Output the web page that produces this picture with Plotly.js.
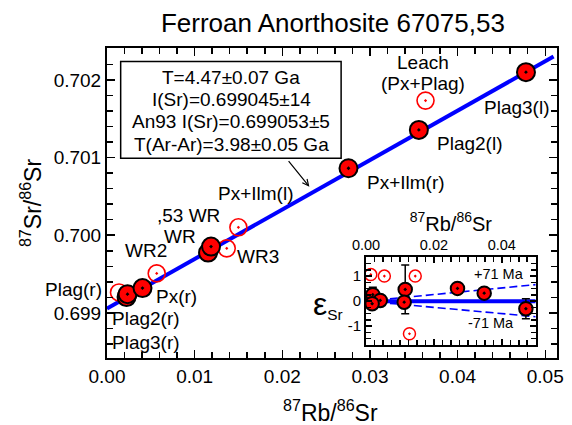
<!DOCTYPE html>
<html><head><meta charset="utf-8">
<script src="https://cdn.plot.ly/plotly-3.0.1.min.js"></script>
<style>html,body{margin:0;padding:0;background:#fff}#chart{width:572px;height:425px}</style>
</head><body><div id="chart"></div>
<script>
// ---- Main isochron data: 87Rb/86Sr vs 87Sr/86Sr ----
const openRb = [0.00137, 0.00567, 0.01366, 0.01499, 0.03634];
const openSr = [0.699264, 0.699509, 0.699831, 0.700102, 0.701733];
const filledRb = [0.00223, 0.00234, 0.00405, 0.01153, 0.01187, 0.02755, 0.03558, 0.04780];
const filledSr = [0.699204, 0.699242, 0.699320, 0.699777, 0.699854, 0.700862, 0.701356, 0.702099];
const isochronRb = [0, 0.05095];
const isochronSr = [0.699058, 0.702300];

// ---- Inset: epsilon Sr deviations ----
const insetOpenRb = [0.0014, 0.0054, 0.0145, 0.0128];
const insetOpenEps = [1.06, 1.00, 1.00, -1.30];
const insetFilledRb = [0.0020, 0.0042, 0.0018, 0.01155, 0.01125, 0.02695, 0.03482, 0.0471];
const insetFilledEps = [0.26, 0.03, -0.10, 0.47, -0.04, 0.51, 0.32, -0.30];
const insetFilledErr = [0.30, 0.20, 0.20, 0.97, 0.20, 0.20, 0.20, 0.40];
const refLineRb = [0, 0.05];
const refLineEps = [0, 0];
const plus71Eps = [0, 0.66];
const minus71Eps = [0, -0.62];
const insetXTickVals = [0, 0.02, 0.04];
const insetXTickText = ['0.00', '0.02', '0.04'];
const insetYTickVals = [-1, 0, 1];
const insetYTickText = ['-1', '0', '1'];

const FONT = 'Liberation Sans, Arial, Helvetica, sans-serif';
const RED = '#ff0000';
const BLUE = '#0000ff';

const traces = [
  {x: isochronRb, y: isochronSr, mode: 'lines', line: {color: BLUE, width: 4}, xaxis: 'x', yaxis: 'y', hoverinfo: 'skip'},
  {x: openRb, y: openSr, mode: 'markers', xaxis: 'x', yaxis: 'y',
   marker: {symbol: 'circle-open-dot', size: 17, color: RED, line: {color: RED, width: 1.6}}},
  {x: filledRb, y: filledSr, mode: 'markers', xaxis: 'x', yaxis: 'y',
   marker: {symbol: 'circle-dot', size: 18, color: RED, line: {color: 'black', width: 2}}},
  // inset
  {x: refLineRb, y: refLineEps, mode: 'lines', line: {color: BLUE, width: 4}, xaxis: 'x2', yaxis: 'y2'},
  {x: refLineRb, y: plus71Eps, mode: 'lines', line: {color: BLUE, width: 1.6, dash: '8px,4px'}, xaxis: 'x2', yaxis: 'y2'},
  {x: refLineRb, y: minus71Eps, mode: 'lines', line: {color: BLUE, width: 1.6, dash: '8px,4px'}, xaxis: 'x2', yaxis: 'y2'},
  {x: insetOpenRb, y: insetOpenEps, mode: 'markers', xaxis: 'x2', yaxis: 'y2',
   marker: {symbol: 'circle-open-dot', size: 12, color: RED, line: {color: RED, width: 1.5}}},
  {x: insetFilledRb, y: insetFilledEps, mode: 'markers', xaxis: 'x2', yaxis: 'y2',
   error_y: {type: 'data', array: insetFilledErr, visible: true, color: 'black', thickness: 1.5, width: 4},
   marker: {symbol: 'circle-dot', size: 13.5, color: RED, line: {color: 'black', width: 2}}}
];

function lab(text, x, y, size) {
  return {text: text, x: x, y: y, xref: 'x', yref: 'y', showarrow: false,
          xanchor: 'center', yanchor: 'middle', font: {size: size || 19}};
}

const annotations = [
  lab('T=4.47±0.07 Ga', 0.01420, 0.702026),
  lab('I(Sr)=0.699045±14', 0.01420, 0.701748),
  lab('An93 I(Sr)=0.699053±5', 0.01420, 0.701459),
  lab('T(Ar-Ar)=3.98±0.05 Ga', 0.01420, 0.701172),
  lab('Leach', 0.03604, 0.702223),
  lab('(Px+Plag)', 0.03604, 0.701957),
  lab('Plag3(l)', 0.04669, 0.701648),
  lab('Plag2(l)', 0.04136, 0.701175),
  lab('Px+Ilm(r)', 0.03413, 0.700682),
  lab('Px+Ilm(l)', 0.01689, 0.700531),
  lab(',53 WR', 0.00935, 0.700260),
  lab('WR', 0.00833, 0.699985),
  lab('WR3', 0.01727, 0.699723),
  lab('WR2', 0.00443, 0.699807),
  lab('Px(r)', 0.00796, 0.699207),
  {text: 'Plag(r)', x: -0.0755, y: 0.2194, xref: 'paper', yref: 'paper', showarrow: false,
   xanchor: 'center', yanchor: 'middle', font: {size: 19}},
  lab('Plag2(r)', 0.00445, 0.698929),
  lab('Plag3(r)', 0.00445, 0.698615),
  {x: 0.02309, y: 0.700625, xref: 'x', yref: 'y', text: '', showarrow: true,
   ax: -22, ay: -27, arrowhead: 5, arrowsize: 1, arrowwidth: 1.2, arrowcolor: 'black'},
  {text: '+71 Ma', x: 0.03915, y: 1.07, xref: 'x2', yref: 'y2', showarrow: false, font: {size: 14.5}},
  {text: '-71 Ma', x: 0.03682, y: -0.87, xref: 'x2', yref: 'y2', showarrow: false, font: {size: 14.5}},
  {text: 'ε<span style="font-size:22px"><sub>Sr</sub></span>', x: 0.4533, y: 0.174,
   xref: 'paper', yref: 'paper', xanchor: 'left', yanchor: 'middle', showarrow: false, font: {size: 32}},
  // main x-axis title, sitting at the bottom edge as in the original
  {text: '<sup>87</sup>Rb/<sup>86</sup>Sr', x: 0.4956, y: -0.1694, xref: 'paper', yref: 'paper',
   xanchor: 'center', yanchor: 'middle', showarrow: false, font: {size: 23}}
];

const layout = {
  width: 572, height: 425,
  margin: {l: 107, r: 15, t: 48, b: 67},
  paper_bgcolor: 'white', plot_bgcolor: 'white',
  showlegend: false,
  font: {family: FONT, color: 'black', size: 19},
  title: {text: 'Ferroan Anorthosite 67075,53', font: {size: 26},
          x: 0.582, xanchor: 'center', y: 0.946, yanchor: 'middle'},
  xaxis: {
    domain: [0, 1], range: [0, 0.05134], dtick: 0.01, tick0: 0, tickformat: '.2f',
    ticks: 'inside', ticklen: 8, tickwidth: 1.5, tickcolor: 'black',
    minor: {dtick: 0.002, tick0: 0, ticks: 'inside', ticklen: 6, tickwidth: 1.5, tickcolor: 'black', showgrid: false},
    showline: true, linewidth: 2, linecolor: 'black', mirror: 'ticks',
    showgrid: false, zeroline: false, tickfont: {size: 19}
  },
  yaxis: {
    domain: [0, 1], range: [0.69842, 0.70241], dtick: 0.001, tick0: 0.699, tickformat: '.3f',
    ticks: 'inside', ticklen: 8, tickwidth: 1.5, tickcolor: 'black',
    minor: {dtick: 0.0002, tick0: 0.699, ticks: 'inside', ticklen: 6, tickwidth: 1.5, tickcolor: 'black', showgrid: false},
    showline: true, linewidth: 2, linecolor: 'black', mirror: 'ticks',
    showgrid: false, zeroline: false, tickfont: {size: 19},
    title: {text: '<sup>87</sup>Sr/<sup>86</sup>Sr', font: {size: 23}, standoff: 6}
  },
  xaxis2: {
    domain: [0.5756, 0.9527], anchor: 'y2', side: 'top', range: [0, 0.05],
    tickmode: 'array', tickvals: insetXTickVals, ticktext: insetXTickText,
    ticks: 'inside', ticklen: 6, tickwidth: 1.5, tickcolor: 'black',
    minor: {dtick: 0.0025, tick0: 0, ticks: 'inside', ticklen: 5, tickwidth: 1.5, tickcolor: 'black', showgrid: false},
    showline: true, linewidth: 2, linecolor: 'black', mirror: 'ticks',
    showgrid: false, zeroline: false, tickfont: {size: 14.5},
    title: {text: '<sup>87</sup>Rb/<sup>86</sup>Sr', font: {size: 20}, standoff: 0}
  },
  yaxis2: {
    domain: [0.0419, 0.3248], anchor: 'x2', range: [-1.75, 1.75],
    tickmode: 'array', tickvals: insetYTickVals, ticktext: insetYTickText,
    ticks: 'inside', ticklen: 6, tickwidth: 1.5, tickcolor: 'black',
    minor: {dtick: 0.25, tick0: 0, ticks: 'inside', ticklen: 5, tickwidth: 1.5, tickcolor: 'black', showgrid: false},
    showline: true, linewidth: 2, linecolor: 'black', mirror: 'ticks',
    showgrid: false, zeroline: false, tickfont: {size: 15}
  },
  shapes: [
    {type: 'rect', xref: 'x', yref: 'y', x0: 0.00156, x1: 0.02671, y0: 0.700991, y1: 0.702236,
     line: {color: 'black', width: 1.5}, fillcolor: 'rgba(0,0,0,0)'}
  ],
  annotations: annotations
};

Plotly.newPlot('chart', traces, layout, {staticPlot: true, displayModeBar: false});
</script></body></html>
